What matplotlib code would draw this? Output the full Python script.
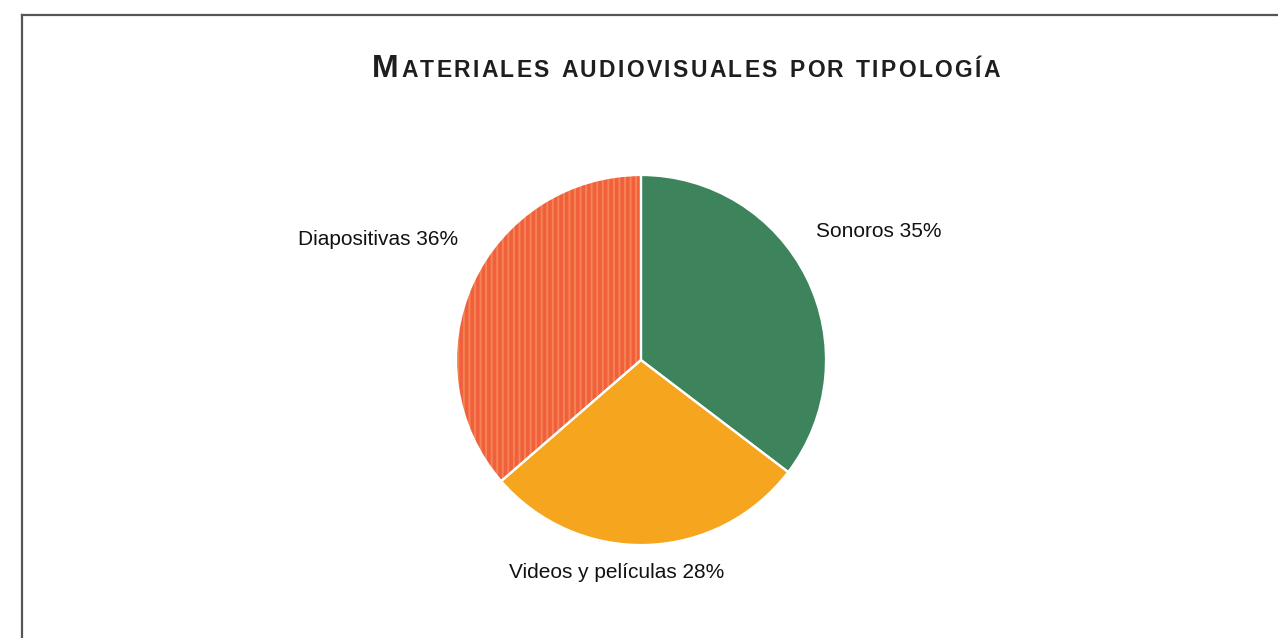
import matplotlib.pyplot as plt
from matplotlib.lines import Line2D

# chart data
categories = ["Sonoros", "Videos y películas", "Diapositivas"]
shares = [35, 28, 36]
colors = ["#3d845c", "#f6a51f", "#f0603e"]

# label anchors in pie-radius units (pie centre at 0,0)
label_pos = [(0.946, 0.692, "left"), (-0.13, -1.151, "center"), (-0.989, 0.649, "right")]

W, H = 1278, 638
CX, CY, R = 641, 360, 185  # pie centre and radius in pixels

plt.rcParams["hatch.linewidth"] = 1.4

fig = plt.figure(figsize=(W / 100, H / 100), dpi=100)
fig.patch.set_facecolor("white")

# axes covering the whole figure, with 1 data unit = pie radius
ax = fig.add_axes([0, 0, 1, 1])

# filled wedges, the last one with a light stripe texture
wedges, _ = ax.pie(shares, colors=colors, startangle=90, counterclock=False,
                   radius=1, wedgeprops=dict(linewidth=0))
wedges[2].set_hatch("|||")
wedges[2].set_edgecolor("#f68350")

# white separators on top
ax.pie(shares, colors=["none"] * 3, startangle=90, counterclock=False,
       radius=1, wedgeprops=dict(linewidth=1.6, edgecolor="white", fill=False))
ax.set_xlim(-CX / R, (W - CX) / R)
ax.set_ylim(-(H - CY) / R, CY / R)
ax.set_aspect("auto")
ax.axis("off")

for name, val, (x, y, ha) in zip(categories, shares, label_pos):
    ax.text(x, y, f"{name} {val}%", ha=ha, va="center", fontsize=15,
            family="Liberation Sans", color="#111111")

# title in small caps with some letter spacing
title = "MATERIALES AUDIOVISUALES POR TIPOLOGÍA"
fig.canvas.draw()
renderer = fig.canvas.get_renderer()
x = 372.0
base_y = 1 - 77 / H
for i, ch in enumerate(title):
    size = 23 if i == 0 else 16.5
    t = fig.text(x / W, base_y, ch, fontsize=size, fontweight="bold",
                 family="Liberation Sans", color="#1e1e1e", va="baseline", ha="left")
    if ch == " ":
        x += 10
    else:
        x += t.get_window_extent(renderer).width + 2.3

# frame lines (left and top)
frame_kw = dict(color="#555555", linewidth=1.6, transform=fig.transFigure)
fig.add_artist(Line2D([22 / W, 22 / W], [0, 1 - 15 / H], **frame_kw))
fig.add_artist(Line2D([22 / W, 1], [1 - 15 / H, 1 - 15 / H], **frame_kw))

fig.savefig("out.png", dpi=100, facecolor="white")
